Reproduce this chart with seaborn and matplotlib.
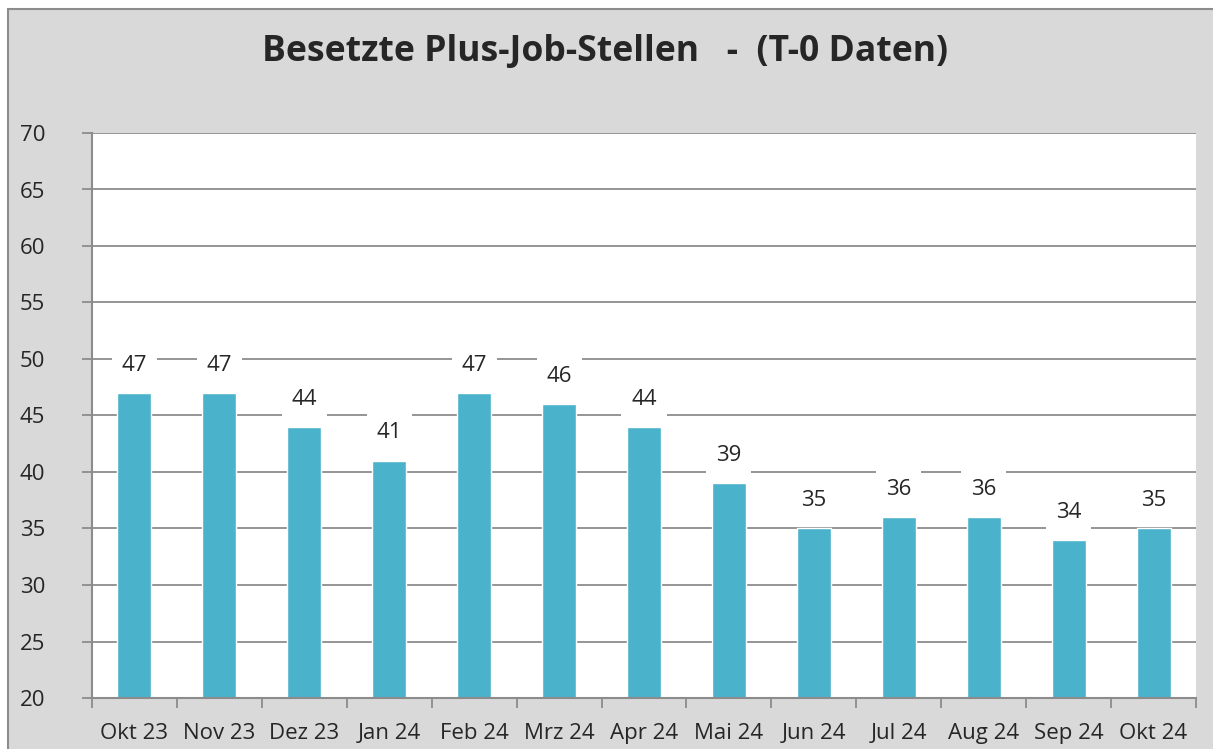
import matplotlib
matplotlib.use("Agg")
import matplotlib.pyplot as plt
import seaborn as sns
import pandas as pd
from matplotlib.patches import Rectangle

months = ["Okt 23", "Nov 23", "Dez 23", "Jan 24", "Feb 24", "Mrz 24", "Apr 24",
          "Mai 24", "Jun 24", "Jul 24", "Aug 24", "Sep 24", "Okt 24"]
besetzt = [47, 47, 44, 41, 47, 46, 44, 39, 35, 36, 36, 34, 35]
yticks = list(range(20, 71, 5))

sns.set_theme(style="white")
plt.rcParams['font.family'] = ['Open Sans', 'DejaVu Sans']

df = pd.DataFrame({"Monat": months, "Anzahl": besetzt})
grey = "#8c8c8c"
bar_col = "#4bb2cc"
txt = "#262626"

fig = plt.figure(figsize=(12.13, 7.49), dpi=100)
fig.patch.set_facecolor("white")
fig.add_artist(Rectangle((8/1213, -0.01), 1.0, 1.01 - 9/749, transform=fig.transFigure,
                         facecolor="#d9d9d9", edgecolor=grey, linewidth=1.5, zorder=0))
ax = fig.add_axes([92/1213, 51/749, 1104/1213, 565/749])
ax.set_facecolor("white")

sns.barplot(data=df, x="Monat", y="Anzahl", color=bar_col, saturation=1, width=0.4, ax=ax, zorder=2)

ax.set_ylim(20, 70)
ax.set_xlim(-0.5, len(months) - 0.5)
ax.set_yticks(yticks)
ax.set_yticklabels([str(t) for t in yticks], fontsize=16, color=txt)
ax.yaxis.grid(True, color=grey, linewidth=1.3, zorder=1)
ax.set_axisbelow(True)
ax.tick_params(axis="y", length=7, width=1.3, color=grey, pad=45, direction="out", left=True)
for lab in ax.get_yticklabels():
    lab.set_horizontalalignment("left")

ax.set_xticks(range(len(months)))
ax.set_xticklabels(months, fontsize=16, color=txt)
ax.set_xticks([i - 0.5 for i in range(len(months) + 1)], minor=True)
ax.tick_params(axis="x", which="major", length=0, pad=18)
ax.tick_params(axis="x", which="minor", length=7, width=1.3, color=grey, direction="out", bottom=True)

for s in ["top", "right"]:
    ax.spines[s].set_visible(False)
for s in ["left", "bottom"]:
    ax.spines[s].set_color(grey)
    ax.spines[s].set_linewidth(1.5)

for i, v in enumerate(besetzt):
    ax.annotate(str(v), (i, v), xytext=(0, 20), textcoords="offset points",
                ha="center", va="center", fontsize=16, color=txt, zorder=4,
                bbox=dict(facecolor="white", edgecolor="none", pad=7))

ax.set_xlabel("")
ax.set_ylabel("")
fig.text(605/1213, 1 - 52/749, "Besetzte Plus-Job-Stellen   -  (T-0 Daten)",
         ha="center", va="center", fontsize=25.6, fontweight="bold", color=txt)

fig.savefig("out.png", dpi=100, facecolor=fig.get_facecolor())
